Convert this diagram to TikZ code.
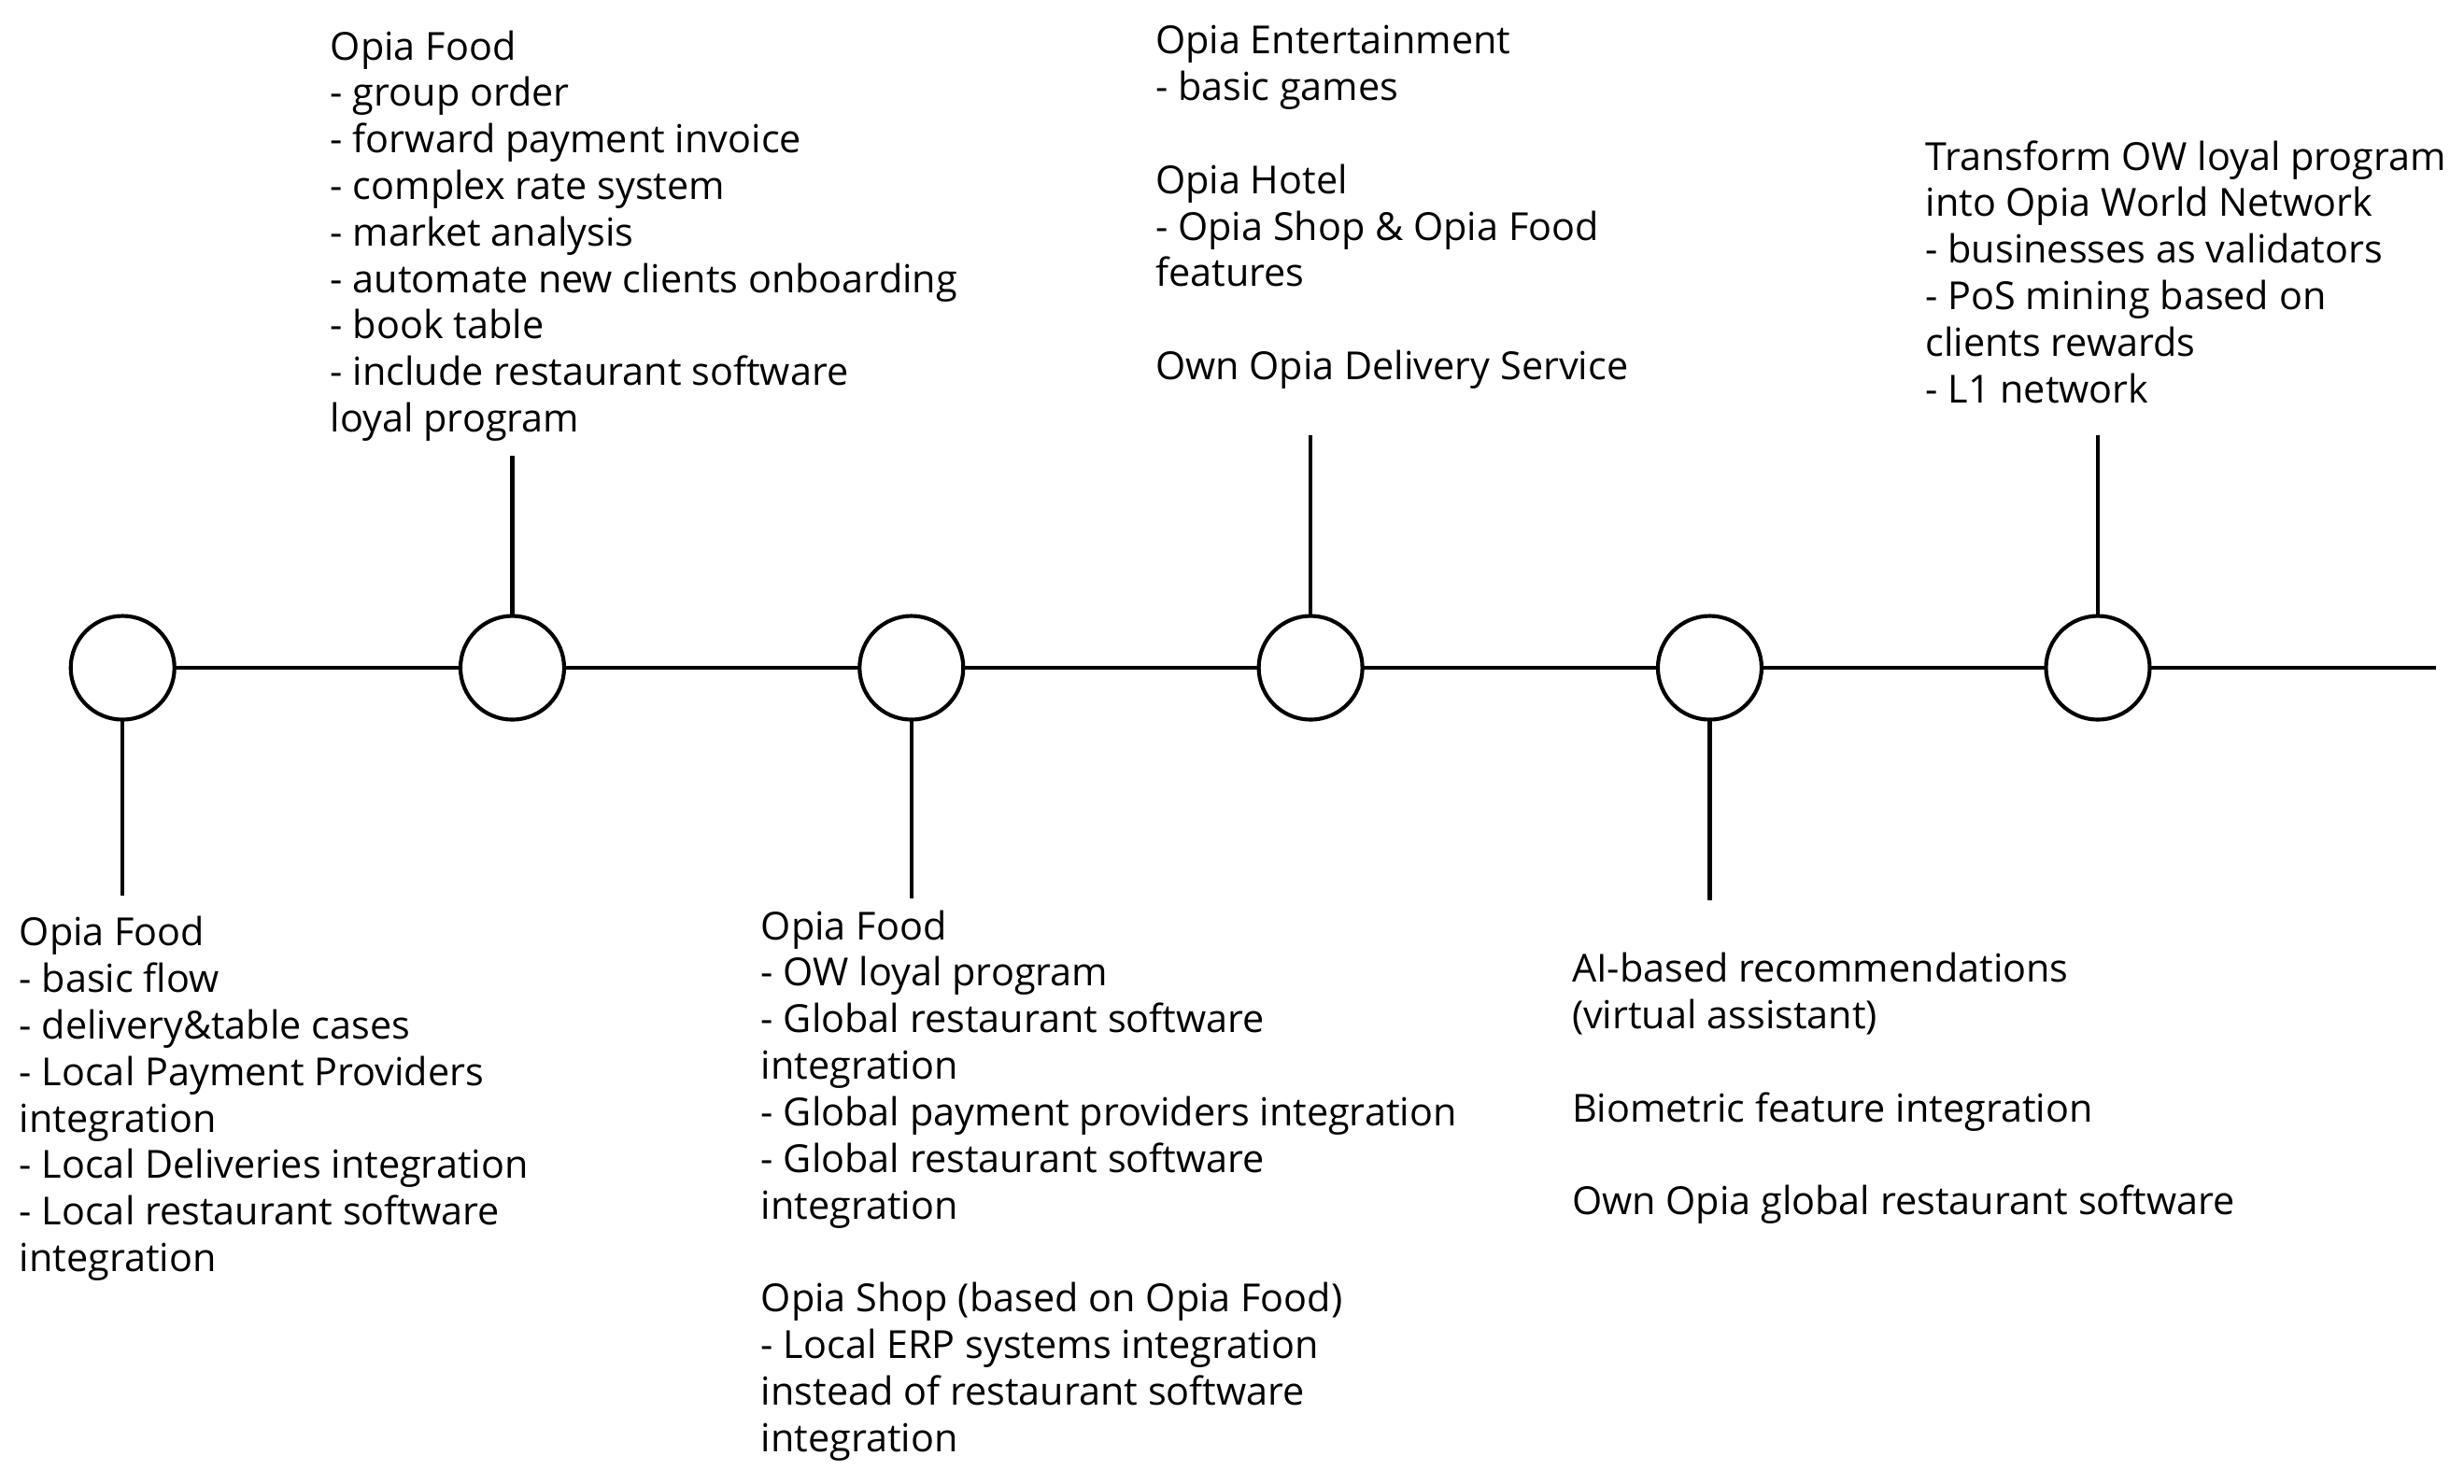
\documentclass[tikz,border=0pt]{standalone}
\usepackage{fontspec}
\setmainfont{Open Sans}
\begin{document}
\begin{tikzpicture}[x=0.02cm,y=-0.02cm,
  ms/.style={circle,draw,line width=1.4pt,minimum size=1.32cm,inner sep=0pt,outer sep=0pt},
  conn/.style={line width=1.4pt},
  txt/.style={anchor=north west,inner sep=0pt,align=left,font=\fontsize{14}{16.85}\selectfont}]
\useasboundingbox[fill=white] (0,0) rectangle (1568,944);
\node[ms] (c1) at (78,425) {};
\node[ms] (c2) at (326,425) {};
\node[ms] (c3) at (580,425) {};
\node[ms] (c4) at (834,425) {};
\node[ms] (c5) at (1088,425) {};
\node[ms] (c6) at (1335,425) {};
\coordinate (e) at (1550,425);
\coordinate (d1) at (78,570);
\coordinate (u2) at (326,290);
\coordinate (d3) at (580,572);
\coordinate (u4) at (834,277);
\coordinate (d5) at (1088,573);
\coordinate (u6) at (1335,277);
\draw[conn] (c1) -- (c2);
\draw[conn] (c2) -- (c3);
\draw[conn] (c3) -- (c4);
\draw[conn] (c4) -- (c5);
\draw[conn] (c5) -- (c6);
\draw[conn] (c6) -- (e);
\draw[conn] (c1.south) -- (d1);
\draw[conn] (c2.north) -- (u2);
\draw[conn] (c3.south) -- (d3);
\draw[conn] (c4.north) -- (u4);
\draw[conn] (c5.south) -- (d5);
\draw[conn] (c6.north) -- (u6);
\node[txt] (t1) at (12,583) {Opia Food\\- basic flow\\- delivery\&table cases\\- Local Payment Providers\\integration\\- Local Deliveries integration\\- Local restaurant software\\integration};
\node[txt] (t2) at (210,19) {Opia Food\\- group order\\- forward payment invoice\\- complex rate system\\- market analysis\\- automate new clients onboarding\\- book table\\- include restaurant software\\loyal program};
\node[txt] (t3) at (484,579) {Opia Food\\- OW loyal program\\- Global restaurant software\\integration\\- Global payment providers integration\\- Global restaurant software\\integration\\[16.85pt]Opia Shop (based on Opia Food)\\- Local ERP systems integration\\instead of restaurant software\\integration};
\node[txt] (t4) at (735,16) {Opia Entertainment\\- basic games\\[16.85pt]Opia Hotel\\- Opia Shop \& Opia Food\\features\\[16.85pt]Own Opia Delivery Service};
\node[txt] (t5) at (1000,606) {AI-based recommendations\\(virtual assistant)\\[16.85pt]Biometric feature integration\\[16.85pt]Own Opia global restaurant software};
\node[txt] (t6) at (1225,89) {Transform OW loyal program\\into Opia World Network\\- businesses as validators\\- PoS mining based on\\clients rewards\\- L1 network};
\end{tikzpicture}
\end{document}
